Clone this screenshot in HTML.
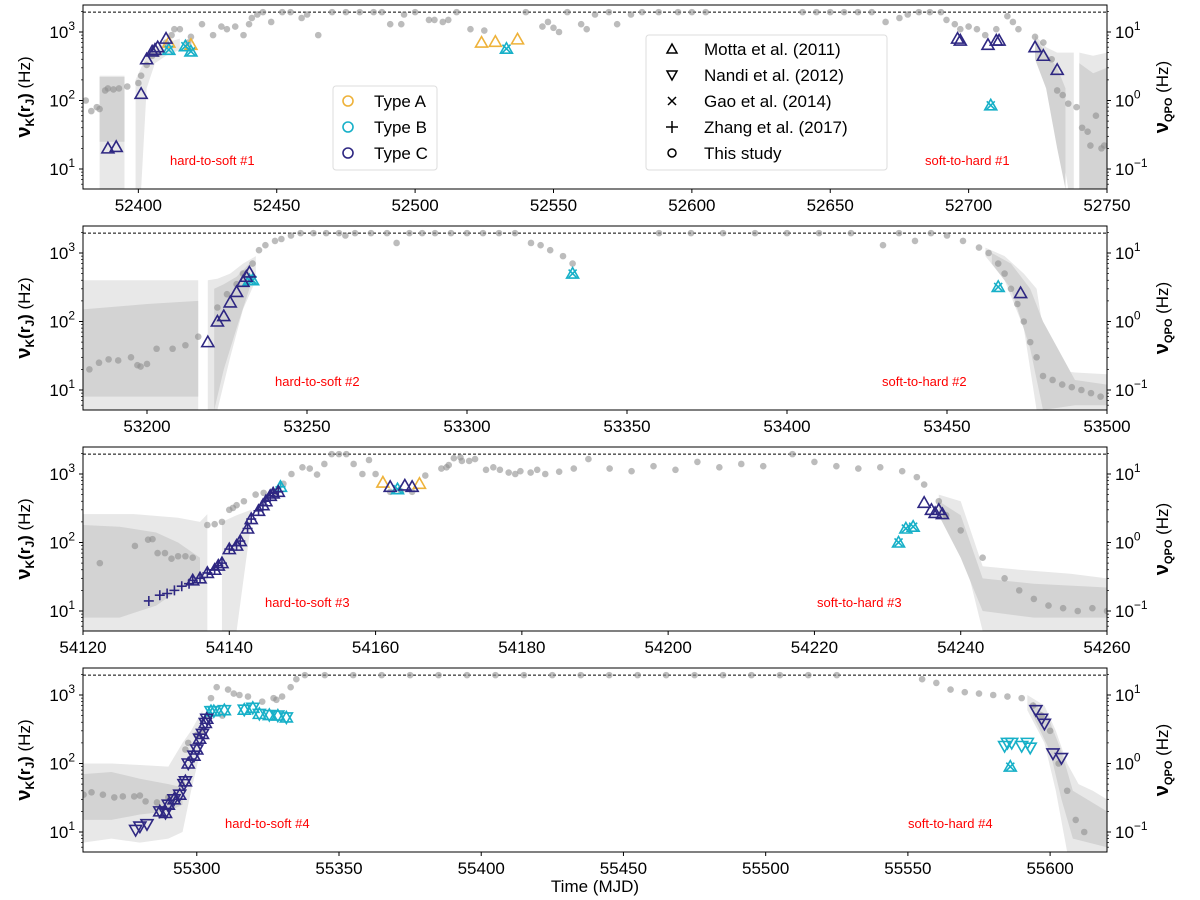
<!DOCTYPE html>
<html><head><meta charset="utf-8"><style>
body{margin:0;background:#fff}
svg{display:block;font-family:"Liberation Sans","DejaVu Sans",sans-serif}
</style></head><body>
<svg id="c" width="1200" height="900" viewBox="0 0 1200 900"></svg>
<script>
// ===== data =====
const xRanges=[[52380,52750],[53180,53500],[54120,54260],[55260,55620]];
const xTicks=[[52400,52450,52500,52550,52600,52650,52700,52750],[53200,53250,53300,53350,53400,53450,53500],[54120,54140,54160,54180,54200,54220,54240,54260],[55300,55350,55400,55450,55500,55550,55600]];
const phaseLabels=[["hard-to-soft #1","soft-to-hard #1"],["hard-to-soft #2","soft-to-hard #2"],["hard-to-soft #3","soft-to-hard #3"],["hard-to-soft #4","soft-to-hard #4"]];
const iscoFreq=1950;
// gray nu_K points [MJD, Hz]
const dots1=[[52381,100],[52383,70],[52385,80],[52386,75],[52388,140],[52389,150],[52391,145],[52393,150],[52396,160],[52400,180],[52401,230],[52403,330],[52405,450],[52407,480],[52410,700],[52412,900],[52413,1100],[52415,1100],[52418,700],[52419,850],[52423,1300],[52427,900],[52430,1200],[52432,1100],[52435,1200],[52438,900],[52440,1300],[52441,1600],[52443,1800],[52445,1950],[52448,1400],[52452,1950],[52455,1950],[52459,1600],[52461,1800],[52465,900],[52470,1950],[52475,1950],[52480,1950],[52485,1950],[52488,1950],[52491,1300],[52495,1300],[52496,1800],[52500,1950],[52505,1500],[52507,1500],[52510,1400],[52512,1500],[52515,1950],[52520,1100],[52525,1050],[52540,1950],[52546,1200],[52548,1400],[52550,1150],[52552,1000],[52555,1950],[52560,1300],[52562,1100],[52565,1800],[52570,1950],[52573,1300],[52578,1800],[52582,1950],[52588,1950],[52595,1950],[52600,1950],[52605,1950],[52640,1950],[52645,1950],[52650,1950],[52655,1950],[52660,1950],[52665,1950],[52670,1400],[52675,1600],[52678,1800],[52682,1950],[52686,1950],[52690,1950],[52692,1500],[52695,1300],[52697,1100],[52700,1200],[52703,1100],[52706,900],[52710,1100],[52714,1700],[52716,1400],[52718,1100],[52724,850],[52727,700],[52730,400],[52732,140],[52734,120],[52736,90],[52739,80],[52741,40],[52743,35],[52744,22],[52746,60],[52748,20],[52749,22]];
const dots2=[[53182,20],[53185,25],[53188,28],[53191,27],[53195,30],[53197,23],[53198,22],[53200,24],[53203,40],[53208,40],[53212,45],[53216,60],[53222,160],[53225,250],[53228,350],[53230,500],[53233,700],[53235,1100],[53237,1300],[53240,1500],[53242,1600],[53245,1800],[53248,1950],[53252,1950],[53256,1950],[53260,1950],[53262,1800],[53265,1950],[53270,1950],[53275,1950],[53278,1400],[53282,1950],[53286,1950],[53290,1950],[53295,1950],[53300,1950],[53305,1950],[53310,1950],[53315,1950],[53320,1400],[53323,1300],[53326,1100],[53330,900],[53333,700],[53360,1950],[53370,1950],[53380,1950],[53390,1950],[53400,1950],[53410,1950],[53420,1950],[53430,1300],[53435,1950],[53440,1500],[53445,1950],[53450,1800],[53455,1500],[53460,1200],[53463,1000],[53466,700],[53468,500],[53470,300],[53472,180],[53474,100],[53476,50],[53478,30],[53480,16],[53483,14],[53486,12],[53489,11],[53492,10],[53495,9],[53498,8]];
const dots3=[[54122.3,50],[54127.1,89],[54128.9,110],[54129.5,112],[54130.2,70],[54131.2,70],[54132.1,58],[54133,63],[54134,63],[54135,60],[54137,180],[54138,185],[54139,200],[54140,300],[54140.5,320],[54141,350],[54142,400],[54143.6,500],[54144.7,530],[54146.3,550],[54147.4,720],[54148.5,1000],[54150,1250],[54151,1200],[54152,980],[54153,1400],[54154,1950],[54155,1950],[54156,1950],[54157,1400],[54158.2,1000],[54159.1,1600],[54160,1000],[54162,550],[54163.5,560],[54165,550],[54166.8,950],[54169,1200],[54169.7,1250],[54170,1350],[54170.7,1700],[54171.6,1750],[54171.8,1550],[54172.8,1550],[54173.6,1650],[54175.1,1150],[54176.1,1250],[54177,1150],[54178.2,1050],[54179.1,1000],[54179.8,1100],[54181.2,1050],[54182.1,1150],[54183.2,1000],[54185.1,1080],[54187.1,1200],[54189.1,1650],[54192,1200],[54195,1100],[54198,1300],[54201,1150],[54204,1500],[54207,1250],[54210,1400],[54213,1300],[54217,1950],[54220,1500],[54223,1300],[54226,1200],[54229,1250],[54232,1100],[54234,900],[54235,700],[54237,400],[54238,250],[54240,150],[54243,60],[54246,30],[54248,20],[54250,15],[54252,12],[54254,11],[54256,10],[54258,11],[54260,10]];
const dots4=[[55260.2,35],[55263,38],[55267,35],[55271,32],[55274,33],[55278,33],[55280,34],[55282,28],[55286,27],[55290,32],[55294.8,50],[55296,160],[55297,200],[55300,260],[55302,300],[55304,500],[55305,900],[55307,1300],[55309,500],[55311,1200],[55313,1050],[55315,1000],[55318,950],[55323,800],[55327,900],[55328,850],[55330,950],[55333,1300],[55335,1700],[55338,1950],[55345,1950],[55355,1950],[55365,1950],[55375,1950],[55385,1950],[55395,1950],[55405,1950],[55415,1950],[55425,1950],[55435,1950],[55445,1950],[55455,1950],[55465,1950],[55475,1950],[55485,1950],[55495,1950],[55505,1950],[55515,1950],[55525,1950],[55555,1700],[55560,1500],[55565,1200],[55570,1100],[55575,1050],[55580,1000],[55585,950],[55590,900],[55594,700],[55597,500],[55600,300],[55603,100],[55606,40],[55609,15],[55612,10]];
// shaded uncertainty bands: x, lo, hi (Hz)
const bands=[
 [{k:"l",x:[52386,52395],lo:[4,4],hi:[230,230]},{k:"d",x:[52386,52395],lo:[25,25],hi:[220,220]},{k:"l",x:[52399,52401,52403,52406,52410,52415],lo:[4,4,150,350,450,550],hi:[200,300,450,600,700,800]},{k:"l",x:[52724,52728,52732,52736,52738],lo:[500,200,50,4,4],hi:[900,600,500,500,500]},{k:"l",x:[52740,52745,52750],lo:[4,4,4],hi:[500,450,500]},{k:"d",x:[52724,52728,52732,52735],lo:[400,150,20,4],hi:[800,500,300,150]},{k:"d",x:[52740,52745,52750],lo:[4,4,4],hi:[350,250,300]}],
 [{k:"l",x:[53180,53216],lo:[5,5],hi:[400,400]},{k:"d",x:[53180,53200,53216],lo:[8,8,8],hi:[150,180,200]},{k:"l",x:[53219,53222,53226,53230,53234],lo:[5,5,30,150,400],hi:[400,420,500,700,900]},{k:"d",x:[53221,53224,53228,53232],lo:[5,20,80,300],hi:[300,350,450,700]},{k:"l",x:[53462,53468,53474,53478,53482,53490,53500],lo:[900,400,80,5,5,5,5],hi:[1200,900,500,300,20,18,17]},{k:"d",x:[53464,53470,53476,53480,53490,53500],lo:[700,300,40,5,6,6],hi:[1000,700,300,100,14,12]}],
 [{k:"l",x:[54120,54127,54133,54136,54137],lo:[5,5,5,5,5],hi:[260,260,230,200,260]},{k:"d",x:[54120,54125,54130,54133,54136],lo:[8,8,12,20,30],hi:[180,170,140,100,60]},{k:"l",x:[54139,54141,54143],lo:[5,5,200],hi:[200,250,300]},{k:"l",x:[54237,54240,54243,54248,54255,54260],lo:[300,100,5,5,5,5],hi:[500,400,45,40,35,30]},{k:"d",x:[54237,54240,54243,54250,54260],lo:[250,60,10,8,8],hi:[400,250,30,25,22]}],
 [{k:"l",x:[55260,55270,55280,55290,55295,55298,55302],lo:[7,8,7,8,10,40,200],hi:[100,100,95,90,200,300,600]},{k:"d",x:[55260,55270,55280,55290,55295],lo:[15,15,18,20,25],hi:[70,75,60,50,45]},{k:"l",x:[55592,55598,55602,55606,55610,55615,55620],lo:[600,200,40,5,5,5,5],hi:[1000,700,300,100,50,40,30]},{k:"d",x:[55594,55600,55604,55608,55620],lo:[500,150,30,8,6],hi:[800,400,150,40,20]}]
];
// QPO points [MJD, QPO Hz, marker] markers: u=Motta(up), d=Nandi(down), x=Gao, p=Zhang(+)
const qpoA=[[52411,7,"u"],[52419,6.5,"u"],[52524,7,"u"],[52529,7.2,"u"],[52537,7.8,"u"],[54161,7.5,"u"],[54166,7.2,"u"]];
const qpoB=[[52411,5.5,"ux"],[52417,6.2,"ux"],[52419,5.2,"ux"],[52533,5.7,"ux"],[52708,0.85,"ux"],[53232,4,"ux"],[53233,4,"ux"],[53333,5,"ux"],[53466,3.2,"ux"],[54147,6.5,"up"],[54163,6,"ux"],[54231.5,1.0,"ux"],[54232.5,1.6,"ux"],[54233.5,1.7,"ux"],[55305,5.8,"ud"],[55306,5.8,"ud"],[55309.7,6,"ud"],[55316.7,6.1,"ud"],[55319.7,6.5,"ud"],[55322,5.3,"ud"],[55325.5,5.1,"ud"],[55328.5,5.0,"ud"],[55331.5,4.7,"ud"],[55584,1.8,"d"],[55585,2.0,"d"],[55586,0.9,"ux"],[55586.5,2.0,"d"],[55590,1.8,"d"],[55592,2.0,"d"],[55593,1.7,"d"]];
const qpoC=[[52389,0.2,"u"],[52392,0.21,"u"],[52401,1.25,"u"],[52403,4,"u"],[52405,5.2,"u"],[52406,5.5,"u"],[52407,6,"u"],[52410,8,"u"],[52696,8,"u"],[52697,7.5,"u"],[52707,6.5,"u"],[52710,7.5,"u"],[52711,7.5,"u"],[52724,6,"u"],[52727,4.5,"u"],[52732,2.8,"u"],
[53219,0.5,"u"],[53222,1.0,"u"],[53224,1.2,"u"],[53226,1.9,"u"],[53228,2.7,"u"],[53230,3.8,"u"],[53231,4.5,"u"],[53232,5.2,"u"],[53473,2.6,"u"],
[54129,0.14,"p"],[54130.5,0.17,"p"],[54131.5,0.18,"p"],[54132.5,0.2,"p"],[54133.5,0.23,"p"],[54134.5,0.25,"p"],[54135,0.28,"up"],[54136,0.3,"up"],[54137,0.36,"up"],[54138,0.4,"up"],[54138.5,0.46,"up"],[54139,0.5,"up"],[54140,0.8,"up"],[54141,0.9,"up"],[54141.5,1.05,"up"],[54142.5,1.6,"up"],[54143,2.2,"up"],[54144,2.9,"up"],[54144.6,3.5,"up"],[54145,4,"up"],[54145.6,4.8,"up"],[54146,5.2,"up"],[54146.7,5.5,"up"],[54162,6.5,"u"],[54164,6.8,"u"],[54165,6.5,"u"],[54235,3.8,"u"],[54236,3,"u"],[54236.5,2.7,"u"],[54237,3,"u"],[54237.5,2.6,"u"],
[55278.5,0.107,"d"],[55280,0.12,"d"],[55282.5,0.13,"d"],[55287,0.2,"ud"],[55289,0.19,"ud"],[55290,0.25,"ud"],[55292,0.3,"ud"],[55294,0.35,"ud"],[55295.5,0.5,"d"],[55296,0.55,"ud"],[55297,1.0,"ud"],[55299,1.3,"ud"],[55300,1.6,"ud"],[55301,2.3,"ud"],[55302,2.7,"ud"],[55303,3.9,"ud"],[55303.5,4.5,"ud"],[55595,6,"d"],[55597,4.5,"d"],[55598,3.8,"d"],[55601,1.4,"d"],[55604,1.2,"d"]];
const leftTicks=[1,2,3];
const rightTicks=["10","10","10"];
const rightExp=["1","0","\u22121"];

// ===== drawing =====
const NS="http://www.w3.org/2000/svg";
const svg=document.getElementById("c");
function mk(tag,attrs,parent){const e=document.createElementNS(NS,tag);for(const k in attrs)e.setAttribute(k,attrs[k]);(parent||svg).appendChild(e);return e;}
const L=83,R=1107,H=184,tops=[5,226,447,668];
const LOGTOP=3.394,LOGBOT=0.708;
const colors={A:"#eeb23a",B:"#17b0c8",C:"#2e2782"};
const dotSets=[dots1,dots2,dots3,dots4];
for(let p=0;p<4;p++){
 const T=tops[p],[x0,x1]=xRanges[p];
 const X=v=>L+(v-x0)/(x1-x0)*(R-L);
 const Y=f=>{let l=Math.log10(f);l=Math.max(LOGBOT,Math.min(LOGTOP,l));return T+(LOGTOP-l)/(LOGTOP-LOGBOT)*H;};
 const g=mk("g",{});
 
 
 const cid="clip"+p;
 const cp=mk("clipPath",{id:cid},g);mk("rect",{x:L,y:T,width:R-L,height:H},cp);
 const pg=mk("g",{"clip-path":"url(#"+cid+")"},g);
 bands[p].forEach(b=>{
  let pts=b.x.map((x,i)=>X(x)+","+Y(b.hi[i]));
  pts=pts.concat(b.x.map((x,i)=>X(x)+","+Y(b.lo[i])).reverse());
  const poly=mk("polygon",{points:pts.join(" "),fill:b.k=="l"?"#e8e8e8":"#d3d3d3"},pg);
  
  
 });
 const dl=mk("line",{x1:L,x2:R,y1:Y(iscoFreq),y2:Y(iscoFreq),stroke:"#000","stroke-width":1,"stroke-dasharray":"3,2"},pg);
 
 
 dotSets[p].forEach(d=>{
  const c=mk("circle",{cx:X(d[0]),cy:Y(d[1]),r:3.3,fill:"#909090","fill-opacity":0.6},pg);
  
  
 });
 [["A",qpoA],["B",qpoB],["C",qpoC]].forEach(([t,arr])=>{
  arr.forEach(q=>{
   if(q[0]<x0||q[0]>x1)return;
   const cx=X(q[0]),cy=Y(q[1]*100),col=colors[t],m=q[2];
   const mg=mk("g",{stroke:col,fill:"none","stroke-width":1.6},pg);
   
   
   const s=6;
   if(m.includes("u"))mk("polygon",{points:`${cx},${cy-s} ${cx-s},${cy+s*0.75} ${cx+s},${cy+s*0.75}`},mg);
   if(m.includes("d"))mk("polygon",{points:`${cx},${cy+s} ${cx-s},${cy-s*0.75} ${cx+s},${cy-s*0.75}`},mg);
   if(m.includes("x"))mk("path",{d:`M${cx-4},${cy-4}L${cx+4},${cy+4}M${cx-4},${cy+4}L${cx+4},${cy-4}`},mg);
   if(m.includes("p"))mk("path",{d:`M${cx-5},${cy}L${cx+5},${cy}M${cx},${cy-5}L${cx},${cy+5}`},mg);
  });
 });
 const fr=mk("rect",{x:L,y:T,width:R-L,height:H,fill:"none",stroke:"#000","stroke-width":1},g);
 
 
 // x ticks
 xTicks[p].forEach(v=>{
  const x=X(v);
  mk("line",{x1:x,x2:x,y1:T+H,y2:T+H+4,stroke:"#000"},g);
  const t=mk("text",{x:x,y:T+H+22,"text-anchor":"middle","font-size":17,fill:"#000"},g);
  t.textContent=v;
  
  
 });
 // y ticks
 for(let e=1;e<=3;e++){
  const y=Y(Math.pow(10,e));
  mk("line",{x1:L-4,x2:L,y1:y,y2:y,stroke:"#000"},g);
  mk("line",{x1:R,x2:R+4,y1:y,y2:y,stroke:"#000"},g);
 }
 for(let e=0;e<=3;e++)for(let k=2;k<10;k++){
  const f=k*Math.pow(10,e);if(Math.log10(f)>LOGTOP||Math.log10(f)<LOGBOT)continue;
  const y=Y(f);
  mk("line",{x1:L-2,x2:L,y1:y,y2:y,stroke:"#000","stroke-width":0.7},g);
  mk("line",{x1:R,x2:R+2,y1:y,y2:y,stroke:"#000","stroke-width":0.7},g);
 }
 leftTicks.forEach((e,i)=>{
  const y=Y(Math.pow(10,e));
  const t=mk("text",{x:L-8,y:y+6,"text-anchor":"end","font-size":17},g);
  
  
  t.innerHTML='10<tspan dy="-8" font-size="12">'+e+'</tspan>';
  const y2=Y(Math.pow(10,3-i));
  const t2=mk("text",{x:R+8,y:y2+6,"font-size":17},g);
  
  
  t2.innerHTML=rightTicks[i]+'<tspan dy="-8" font-size="12">'+rightExp[i]+'</tspan>';
 });
 // axis titles
 const yt=mk("text",{transform:`translate(30,${T+H/2}) rotate(-90)`,"text-anchor":"middle","font-size":17},g);
 
 
 yt.innerHTML='<tspan font-weight="bold" font-size="20">ν</tspan><tspan font-weight="bold" font-size="12" dy="4">K</tspan><tspan font-weight="bold" dy="-4">(r</tspan><tspan font-weight="bold" font-size="12" dy="4">J</tspan><tspan font-weight="bold" dy="-4">)</tspan> (Hz)';
 const yr=mk("text",{transform:`translate(1168,${T+H/2}) rotate(-90)`,"text-anchor":"middle","font-size":17},g);
 
 
 yr.innerHTML='<tspan font-weight="bold" font-size="20">ν</tspan><tspan font-weight="bold" font-size="11" dy="4">QPO</tspan><tspan dy="-4"> (Hz)</tspan>';
 // phase labels
 const lp=[[[170,165],[925,165]],[[275,386],[882,386]],[[265,607],[817,607]],[[225,828],[908,828]]][p];
 phaseLabels[p].forEach((s,i)=>{
  const t=mk("text",{x:lp[i][0],y:lp[i][1],"font-size":13,fill:"#ff0000"},g);
  t.textContent=s;
  
  
 });
}
const xt=mk("text",{x:595,y:892,"text-anchor":"middle","font-size":17});
xt.textContent="Time (MJD)";


// legends
const lg1=mk("g",{});


mk("rect",{x:333,y:86,width:104,height:84,fill:"#fff","fill-opacity":0.85,stroke:"#ddd",rx:3},lg1);
[["Type A","A"],["Type B","B"],["Type C","C"]].forEach((e,i)=>{
 const y=101+i*26;
 mk("circle",{cx:348,cy:y,r:5,fill:"none",stroke:colors[e[1]],"stroke-width":1.6},lg1);
 const t=mk("text",{x:374,y:y+6,"font-size":17},lg1);t.textContent=e[0];
 
 
});
const lg2=mk("g",{});


mk("rect",{x:646,y:35,width:241,height:135,fill:"#fff","fill-opacity":0.85,stroke:"#ddd",rx:3},lg2);
const refs=[["Motta et al. (2011)","u"],["Nandi et al. (2012)","d"],["Gao et al. (2014)","x"],["Zhang et al. (2017)","p"],["This study","o"]];
refs.forEach((e,i)=>{
 const y=49+i*26,cx=672;
 const mg=mk("g",{stroke:"#000",fill:"none","stroke-width":1.5},lg2);
 if(e[1]=="u")mk("polygon",{points:`${cx},${y-5} ${cx-5},${y+4} ${cx+5},${y+4}`},mg);
 if(e[1]=="d")mk("polygon",{points:`${cx},${y+5} ${cx-5},${y-4} ${cx+5},${y-4}`},mg);
 if(e[1]=="x")mk("path",{d:`M${cx-4},${y-4}L${cx+4},${y+4}M${cx-4},${y+4}L${cx+4},${y-4}`},mg);
 if(e[1]=="p")mk("path",{d:`M${cx-6},${y}L${cx+6},${y}M${cx},${y-6}L${cx},${y+6}`},mg);
 if(e[1]=="o")mk("circle",{cx:cx,cy:y,r:4},mg);
 const t=mk("text",{x:704,y:y+6,"font-size":17},lg2);t.textContent=e[0];
 
 
});
</script>
</body></html>
